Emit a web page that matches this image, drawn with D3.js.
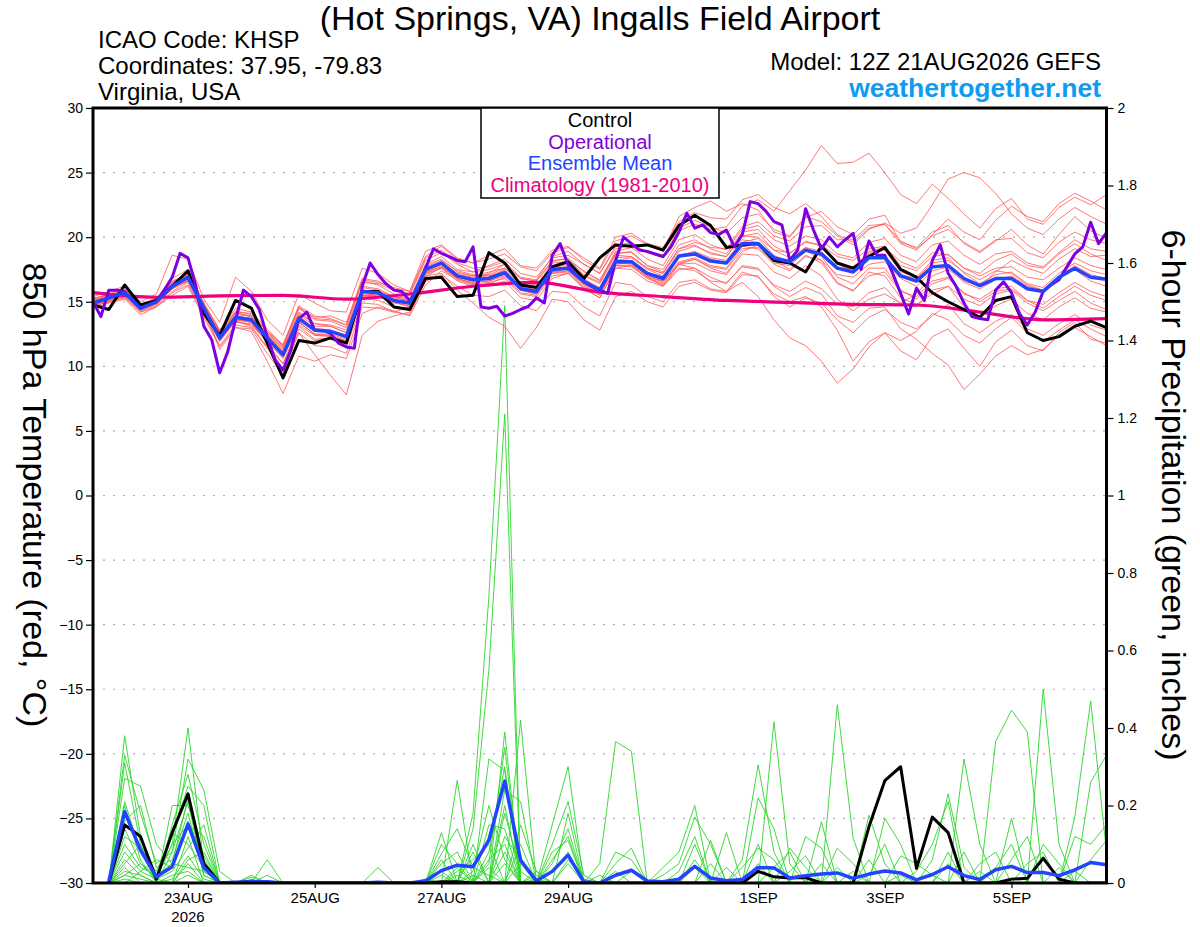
<!DOCTYPE html>
<html><head><meta charset="utf-8">
<script src="https://cdn.jsdelivr.net/npm/d3@7"></script>
<style>
body{margin:0;background:#fff;}
svg{display:block;font-family:"Liberation Sans",Arial,Helvetica,sans-serif;}
</style>
</head><body>
<svg id="c" width="1200" height="927"></svg>
<script>
// ---------------- DATA ----------------
// 6-hourly steps from 12Z 21AUG2026 (index 0) to 12Z 06SEP2026 (index 64)
const controlTemp = [14.75,14.4,16.3,14.75,15.1,16.2,17.4,14.1,12.4,15.1,
  14.5,11.8,9.1,12.0,11.8,12.2,11.8,15.8,15.8,14.6,
  14.4,16.8,16.9,15.4,15.5,18.8,18.0,16.3,16.1,17.7,
  18.1,16.8,18.4,19.4,19.3,19.4,19.0,20.9,21.7,20.9,
  19.2,19.4,19.5,18.2,18.0,17.3,19.3,18.0,17.6,18.5,
  19.2,17.5,16.9,15.7,15.0,14.4,13.8,15.1,15.4,12.6,
  12.0,12.3,13.1,13.5,13.0];
const meanTemp = [14.9,15.3,15.7,14.5,15.0,16.2,16.9,14.5,12.2,13.8,
  13.6,12.2,10.9,13.7,12.8,12.7,12.3,15.8,15.7,15.1,
  14.9,17.5,18.0,17.0,16.7,16.8,17.25,16.0,15.8,17.5,
  17.6,16.55,15.9,18.1,18.1,17.2,16.8,18.55,18.7,18.15,
  18.0,19.5,19.5,18.4,18.1,19.0,18.7,17.6,17.3,18.4,
  18.4,17.0,16.6,17.7,17.8,16.8,16.25,16.8,16.8,16.0,
  15.8,16.9,17.6,16.9,16.75];
// operational run, 3-hourly (index 0..128)
const operTemp = [15.0,13.85,15.9,15.9,15.8,15.1,14.5,14.75,15.0,15.9,
  16.9,18.75,18.4,16.2,13.1,12.05,9.5,11.1,13.6,15.9,
  15.4,14.4,12.3,10.5,9.7,11.3,13.7,14.2,12.8,12.8,
  12.55,11.8,11.5,11.4,16.2,18.0,17.1,16.4,15.9,15.8,
  15.1,15.9,17.6,19.1,18.75,18.5,18.2,18.1,19.25,14.6,
  14.5,14.65,13.9,14.1,14.4,14.65,15.3,14.9,18.6,19.5,
  17.85,17.1,16.55,16.2,15.9,15.65,18.2,20.0,19.5,19.0,
  18.9,18.7,18.5,19.25,20.4,21.85,20.7,20.95,20.35,20.2,
  20.55,19.25,20.2,22.75,22.6,22.0,21.2,20.95,18.2,19.0,
  22.2,20.55,19.1,20.0,19.25,19.8,20.3,17.5,19.7,18.6,
  18.6,17.2,15.65,14.05,16.05,15.1,18.2,19.4,17.2,16.2,
  14.9,13.85,13.7,13.6,15.9,16.55,15.7,14.1,13.2,14.2,
  15.8,16.3,16.7,17.7,18.7,19.25,21.15,19.5,20.35];
// climatology (1981-2010), daily at 12Z (every 4th 6-h step)
const climTemp = [15.7,15.35,15.45,15.5,15.2,15.6,16.2,16.5,15.75,15.4,15.1,14.95,14.8,14.75,14.2,13.6,13.7];

// ensemble members, 850 hPa temperature (65 values each)
const ensTemp = [
 [15.2,15.6,16.0,14.8,15.3,16.8,17.5,14.9,12.8,14.5,14.2,12.9,11.6,14.5,13.6,13.5,13.0,16.5,16.4,15.9,15.5,18.2,18.8,17.9,17.3,17.8,18.3,17.2,16.9,18.4,18.6,17.9,17.2,19.3,19.6,18.8,18.5,20.5,21.0,20.6,20.8,22.4,22.9,22.0,23.6,25.2,27.1,25.7,25.8,26.5,25.0,23.3,22.6,24.1,23.0,21.8,20.7,22.2,23.0,21.4,21.0,22.3,23.1,22.5,23.3],
 [15.0,15.1,15.4,14.2,14.6,15.7,16.3,14.0,11.6,13.2,13.0,11.4,9.8,12.9,12.0,12.1,11.5,14.9,14.8,14.2,14.0,16.6,17.1,16.2,15.5,15.4,15.9,14.7,14.3,15.8,15.7,14.6,13.9,16.5,16.3,15.4,15.0,16.5,16.7,16.0,15.8,17.3,16.9,15.6,15.0,15.4,14.6,12.8,10.4,11.9,12.6,11.2,10.5,12.3,12.9,11.4,10.0,11.9,12.8,11.6,11.2,12.6,13.4,12.1,11.8],
 [14.6,15.0,15.5,14.4,14.8,16.0,16.6,14.2,11.9,13.6,13.4,11.8,10.2,13.2,12.4,12.4,11.9,15.5,15.4,15.0,14.6,17.1,17.6,16.8,16.4,16.9,17.5,16.2,15.9,17.8,18.2,17.4,16.6,18.9,19.2,18.3,17.8,19.8,20.2,19.4,19.0,20.6,20.9,19.8,19.3,20.1,19.8,18.7,18.4,19.6,19.9,18.6,18.1,19.4,19.7,18.6,17.9,18.7,18.9,18.0,17.7,18.8,19.8,19.1,18.9],
 [15.3,15.5,15.9,14.6,15.1,16.5,17.2,14.5,11.3,13.0,12.7,10.4,7.9,10.8,10.4,10.9,10.6,14.1,14.6,14.3,13.9,16.3,17.4,16.7,16.3,16.2,16.6,15.3,15.1,16.8,17.2,16.1,15.3,17.6,17.8,16.9,16.2,17.9,18.3,17.6,17.2,18.9,19.4,18.2,17.5,18.6,18.0,16.4,15.9,17.0,17.3,15.8,15.4,16.6,16.9,15.6,15.2,16.0,16.2,15.1,14.8,15.7,16.5,15.8,15.4],
 [14.7,15.2,15.6,14.3,14.9,16.1,16.9,14.7,12.5,13.5,13.1,11.5,10.2,12.6,10.9,9.3,7.8,12.4,13.5,13.9,14.2,16.9,17.7,16.9,16.8,17.2,17.9,16.8,16.6,18.1,18.4,17.3,16.7,18.7,18.9,17.8,17.5,19.4,19.8,19.1,18.7,20.4,20.6,19.3,18.7,19.7,19.3,17.9,17.4,18.8,19.0,17.3,16.9,18.2,18.4,17.2,16.4,17.1,17.3,16.4,16.1,17.2,18.0,17.4,17.1],
 [15.1,15.4,15.8,14.7,15.2,16.4,17.0,14.8,12.6,14.1,13.9,12.5,11.4,14.2,13.3,13.2,12.8,16.2,16.0,15.4,15.2,17.8,18.3,17.3,17.0,17.3,17.6,16.5,16.3,18.0,18.1,17.0,16.4,18.6,18.5,17.6,17.2,18.9,19.3,18.8,18.5,20.1,20.0,19.0,18.8,19.6,19.4,18.5,18.2,19.1,19.3,17.8,17.4,18.5,18.7,17.6,17.0,17.6,17.7,16.9,16.7,17.6,18.4,17.8,17.5],
 [14.8,15.0,15.3,14.2,14.7,15.8,16.5,14.1,12.0,13.4,13.3,11.9,10.6,13.4,12.5,12.4,12.0,15.3,15.1,14.6,14.4,17.0,17.2,15.9,14.9,13.8,13.1,11.4,13.0,15.2,15.0,13.6,12.8,15.4,15.8,15.0,14.6,16.2,16.5,15.9,15.7,17.1,17.0,15.4,14.6,15.3,14.9,13.6,12.6,13.8,14.4,13.4,12.9,13.9,14.8,13.3,12.6,13.5,14.0,12.9,12.4,13.3,14.0,13.2,12.8],
 [15.4,15.8,16.2,15.0,15.6,18.6,18.3,15.2,13.4,16.9,15.8,13.6,12.4,15.6,14.9,14.3,14.2,17.6,17.2,16.3,15.8,18.9,19.4,18.4,18.0,18.6,19.1,17.8,17.6,19.0,19.3,18.2,17.5,19.7,20.1,19.4,18.9,21.6,22.3,22.8,22.0,22.6,22.1,20.4,20.0,21.5,22.0,20.8,20.2,21.4,21.7,19.6,19.2,20.4,20.9,19.5,18.8,19.7,20.6,19.4,18.7,20.2,21.6,20.5,19.9],
 [14.5,14.9,15.2,14.0,14.6,15.5,16.2,13.8,11.5,13.0,12.9,11.0,9.4,12.6,11.6,11.5,11.0,14.6,14.5,14.2,14.6,17.4,18.1,17.2,17.0,17.1,17.6,16.4,16.2,17.6,17.9,16.8,16.0,18.2,18.4,17.5,17.0,18.6,18.8,18.3,18.0,19.6,19.9,18.6,18.0,19.0,18.2,16.5,15.8,17.3,17.0,15.3,14.8,15.6,16.2,14.6,13.8,14.7,15.2,14.1,13.6,14.6,15.3,14.5,14.2],
 [15.0,15.3,15.9,14.5,15.0,16.3,16.7,14.4,12.2,14.0,13.9,12.4,11.2,14.0,13.1,13.1,12.6,16.1,15.9,15.3,15.1,17.7,18.2,17.4,17.1,17.0,17.3,15.9,15.6,17.2,17.4,16.4,15.7,18.0,17.9,17.0,16.6,18.1,18.4,17.8,17.6,19.3,19.1,17.9,17.4,18.5,18.2,17.1,16.9,17.9,18.1,16.8,16.2,17.4,17.7,16.5,16.0,16.7,17.0,16.2,15.9,17.0,17.8,17.1,16.8],
 [14.9,15.2,15.5,14.4,14.9,16.0,16.8,14.3,12.3,13.7,13.5,12.1,10.9,13.9,12.9,12.8,12.4,15.9,15.8,15.1,14.8,17.3,17.9,16.8,16.4,16.5,16.8,15.6,15.4,17.0,17.2,16.0,15.3,17.6,17.5,16.6,16.2,17.5,17.6,16.9,16.4,17.8,17.6,16.2,15.4,16.1,15.6,13.9,13.4,14.5,14.6,12.9,12.1,11.0,10.1,8.2,9.4,10.8,11.6,10.9,11.3,12.4,13.0,12.3,11.6],
 [15.2,15.6,15.8,14.8,15.1,16.6,17.1,14.6,12.4,14.2,13.8,12.6,11.5,14.5,13.8,13.9,13.4,16.8,16.6,16.0,15.6,18.4,19.0,18.0,17.6,17.7,18.1,16.9,16.7,18.5,18.9,17.9,17.2,19.1,19.4,18.8,18.4,20.7,21.3,20.8,20.3,21.5,21.8,20.6,20.1,21.6,21.2,20.1,19.4,20.6,21.1,20.3,20.7,22.5,24.5,25.0,24.6,23.4,21.8,20.7,20.2,21.4,22.3,21.6,21.0],
 [14.8,15.1,15.6,14.6,15.0,16.2,17.0,14.6,12.1,13.5,13.2,11.9,10.7,13.1,12.1,12.2,11.8,15.5,15.5,15.0,14.6,17.2,17.6,16.6,16.2,16.4,16.9,15.7,15.5,17.3,17.6,16.5,15.9,18.1,18.0,17.0,16.5,17.9,18.0,17.4,17.1,18.7,18.6,17.3,16.8,17.8,17.0,15.2,14.3,15.2,15.6,14.9,15.6,17.0,17.5,16.6,16.2,17.3,18.2,17.6,17.2,18.3,19.1,18.5,18.6],
 [15.1,15.3,15.7,14.5,15.0,16.1,16.6,14.6,12.7,13.9,13.6,12.3,11.1,13.7,12.7,12.7,12.3,15.7,15.4,15.0,14.8,17.5,17.9,16.9,16.6,16.6,17.1,16.1,15.9,17.4,17.7,16.7,16.0,18.2,18.2,17.3,16.9,18.6,18.9,18.4,18.2,19.8,19.6,18.5,18.2,19.2,18.9,17.6,17.6,18.9,19.2,18.1,17.6,18.8,18.6,17.6,17.2,18.2,18.7,17.8,17.6,18.7,19.5,18.7,18.2],
 [14.9,15.2,15.7,14.6,15.0,16.3,16.9,14.6,12.3,13.9,13.7,12.3,11.0,13.8,12.9,12.8,12.4,15.8,15.7,15.1,14.9,17.5,18.0,17.0,16.7,16.9,17.3,16.1,15.9,17.5,17.6,16.4,15.7,17.9,18.0,17.0,16.6,17.9,17.6,16.5,15.8,16.5,15.4,13.6,12.2,11.6,10.4,8.7,9.8,11.5,12.6,12.0,12.7,14.1,13.6,12.4,11.8,12.9,13.8,12.6,11.9,12.8,13.6,12.9,12.3],
 [14.7,15.0,15.4,14.3,14.8,16.0,16.7,14.5,12.3,13.7,13.4,12.0,10.8,13.4,12.5,12.5,12.1,15.5,15.6,15.1,14.9,17.6,18.1,17.1,16.9,17.0,17.4,16.1,15.8,17.6,17.7,16.7,16.1,18.4,18.5,17.6,17.2,19.1,19.6,19.2,19.1,20.8,21.2,20.1,19.7,20.8,20.9,19.8,19.8,20.9,21.0,19.7,19.1,20.1,20.6,19.6,18.9,19.8,19.9,18.8,18.4,19.6,20.4,19.8,19.5],
 [15.0,15.4,15.9,14.6,15.2,16.4,17.1,14.9,12.8,14.2,14.1,12.7,11.7,14.7,13.9,13.7,13.2,16.6,16.3,15.6,15.2,17.9,18.5,17.5,17.3,17.5,17.9,16.8,16.6,18.2,18.3,17.1,16.5,18.8,18.8,17.8,17.3,19.1,19.4,18.7,18.5,20.1,20.3,19.0,18.4,19.2,18.5,16.9,16.4,17.6,17.6,15.9,15.2,16.4,16.8,15.7,15.0,15.8,16.0,15.1,14.5,15.4,16.2,15.5,15.1],
 [14.8,15.3,15.6,14.5,14.9,16.1,16.6,14.4,12.4,13.8,13.7,12.5,11.3,14.1,13.3,13.1,12.6,15.9,15.8,15.4,15.0,17.3,17.7,16.8,16.5,16.6,17.0,15.9,15.6,17.2,17.3,16.2,15.5,17.8,17.8,16.9,16.4,18.0,18.3,17.7,17.5,19.1,19.2,18.0,17.8,18.9,18.6,17.6,17.6,18.7,18.6,17.1,16.8,18.0,18.2,17.3,16.7,17.4,17.2,16.3,15.9,16.8,17.5,16.6,16.2],
 [15.1,15.5,15.8,14.7,15.2,16.5,17.3,14.8,12.7,14.3,14.0,12.7,11.6,14.6,13.7,13.6,13.2,16.7,16.5,16.1,15.8,18.5,19.3,18.3,18.0,18.3,18.7,17.7,17.4,18.8,19.2,18.4,17.6,20.0,20.3,19.5,19.2,21.2,21.9,21.5,21.4,22.9,23.3,22.3,21.8,22.6,21.6,20.2,19.6,20.7,21.0,19.5,19.0,20.2,21.4,20.4,19.8,21.3,22.4,21.6,21.2,22.6,23.4,22.8,22.1],
 [14.9,15.2,15.6,14.4,15.0,16.2,16.8,14.4,12.0,13.6,13.5,12.1,10.8,13.5,12.4,12.3,11.9,15.4,15.4,14.9,14.7,17.2,17.8,16.9,16.6,16.8,17.2,16.0,15.7,17.3,17.4,16.3,15.6,17.8,17.7,16.8,16.3,17.6,17.4,16.6,16.5,17.7,17.5,16.3,15.8,16.6,16.0,14.8,14.6,15.7,16.1,14.8,14.6,15.9,16.2,15.2,14.7,15.6,15.9,14.9,14.3,15.1,15.8,14.9,14.4]
];

// 6-hour precipitation (inches), steps 1..64
const controlPrecip = [0,.15,.12,.01,.13,.23,.05,0, 0,.005,0,0,0,0,0,0, 0,0,0,0,0,.003,.003,0, 0,0,0,0,0,0,0,0,
  0,0,0,0,0,0,0,0, 0,.03,.016,.013,.014,0,0,0, .145,.264,.30,.038,.17,.13,0,0, 0,.01,.012,.064,.01,0,0,0];
const meanPrecip = [.005,.184,.085,.016,.042,.152,.04,0, .002,.003,.003,0,0,0,0,0, 0,.002,0,0,.005,.032,.046,.042,
  .111,.263,.059,.005,.03,.072,.003,0, .02,.033,.005,.003,.01,.043,.013,.006, .009,.04,.039,.013,.019,.023,.026,.012,
  .023,.031,.026,.008,.022,.042,.019,.009, .034,.043,.027,.027,.019,.034,.053,.047];
const ensPrecip = [
 [0,.38,.12,.02,.10,.40,.05,0, 0,0,0,0,0,0,0,0, 0,0,0,0,0,.10,.05,0, 0,.39,0,.03,0,0,0,0, 0,0,0,.04,.08,.2,0,0, 0,0,0,0,0,0,0,0, 0,0,0,.03,.1,.21,0,0, 0,0,0,0,0,0,0,0],
 [0,.33,.18,.05,.08,.32,.24,.03, 0,0,0,0,0,0,0,0, 0,0,0,0,0,0,0,.18, .74,1.49,0,0,0,0,0,0, 0,0,0,0,0,0,.11,0, 0,0,0,.03,.07,0,0,.03, 0,0,0,0,0,0,0,0, 0,0,.05,.08,0,0,0,0],
 [0,.31,.10,0,.15,.28,.10,0, 0,0,.06,0,0,0,0,0, 0,0,0,0,0,.075,.14,.04, .02,0,.42,0,0,0,0,.05, .365,.34,0,0,0,0,0,0, .04,.09,.06,0,0,0,0,0, 0,0,0,0,0,0,0,.03, 0,.167,0,0,0,0,0,0],
 [0,.27,.25,.10,.05,.22,.03,0, 0,0,0,0,0,0,0,0, 0,0,0,0,.01,0,.265,0, .05,.35,0,0,.15,.30,0,0, 0,0,0,0,0,.04,0,0, 0,0,0,0,0,0,.46,.116, 0,0,0,0,0,0,0,0, 0,0,0,0,.04,0,0,0],
 [0,.21,.08,.03,.12,.25,.20,0, 0,.02,0,0,0,0,0,0, 0,0,0,0,0,0,0,.14, .55,1.21,0,0,0,0,0,0, 0,0,0,0,0,0,0,0, 0,.22,.14,0,0,0,0,0, .02,.1,0,0,0,0,0,0, 0,0,0,0,0,.17,.47,.08],
 [0,.20,.06,0,.20,.20,.07,0, 0,0,0,0,0,0,0,0, 0,.04,0,0,0,.13,0,0, .32,.29,0,0,.1,.21,.02,0, 0,0,0,0,0,0,0,0, 0,0,0,.09,.04,0,0,0, 0,0,0,0,0,0,0,0, 0,.06,.12,0,0,0,0,0],
 [0,.16,.20,.04,.06,.18,.02,0, 0,0,0,0,0,0,0,0, 0,0,0,0,0,.05,.08,0, 0,.24,.21,0,0,.18,0,0, 0,0,0,.02,.05,.17,.1,0, 0,0,0,0,0,0,.04,0, 0,0,0,0,0,0,.32,.1, 0,0,0,0,0,0,0,0],
 [0,.14,.05,.01,.10,.15,.12,0, 0,0,.02,0,0,0,0,0, 0,0,0,0,0,0,.03,.06, .1,0,.1,0,0,0,0,0, .05,.09,0,0,0,0,0,0, 0,0,0,0,0,.158,0,0, 0,0,0,0,0,.08,0,0, 0,0,0,0,0,0,0,0],
 [0,.12,.09,0,0,.12,0,0, 0,0,0,0,0,0,0,0, 0,0,0,0,.01,0,0,.02, 0,.2,0,.02,0,0,0,.02, 0,0,0,0,0,0,0,0, .06,.305,.08,0,0,0,0,0, 0,0,0,0,0,0,0,0, 0,0,0,0,0,0,.26,.33],
 [0,.10,.04,.02,.13,.10,.04,0, 0,.015,0,0,0,0,0,0, 0,0,0,0,0,.03,0,0, .15,.14,0,0,.05,.14,0,0, 0,0,0,0,0,0,0,.13, 0,0,.04,.08,0,0,0,0, 0,0,0,0,0,0,0,.05, .08,0,0,0,0,.03,0,0],
 [0,.08,.03,.06,.04,.16,.06,0, 0,0,0,0,0,0,0,0, 0,0,0,0,0,0,.02,0, .06,.1,0,0,.08,.11,0,0, 0,0,0,0,.03,.12,0,0, 0,0,0,0,0,0,0,0, 0,0,.07,.05,.02,0,0,0, 0,0,0,0,0,0,0,0],
 [0,.06,.02,0,0,.05,0,0, 0,0,0,0,0,0,0,0, 0,0,0,0,0,.02,0,.08, 0,0,.15,.03,0,0,0,0, .08,.06,0,0,0,0,0,0, 0,0,0,0,.12,.09,0,0, 0,0,0,0,0,0,0,0, .365,.446,.39,0,0,0,0,0],
 [0,.05,.10,.01,.03,.09,.15,0, 0,0,0,0,0,0,0,0, 0,0,0,0,0,0,0,.03, .2,.06,0,0,.03,.08,0,0, 0,0,0,0,0,.1,0,0, 0,0,0,0,0,0,0,0, .175,.05,0,0,0,0,0,0, 0,0,0,.5,.1,0,0,0],
 [0,.04,0,0,.08,.21,.02,0, 0,0,0,0,0,0,0,0, 0,0,0,0,0,0,0,0, .08,.3,0,.01,0,0,0,0, 0,.03,0,0,0,0,0,0, 0,.1,0,0,0,0,0,0, 0,0,0,0,.06,.23,.04,0, 0,0,0,0,0,0,0,0],
 [0,.03,.02,0,.01,.07,.01,0, 0,0,0,0,0,0,0,0, 0,0,0,0,0,.06,0,0, 0,.05,0,0,0,.06,.01,0, 0,0,0,0,0,0,0,0, 0,0,0,0,0,0,.09,.05, 0,0,0,0,0,0,0,0, 0,0,0,0,0,0,.06,.11],
 [0,.02,.05,.02,.05,.04,.03,0, 0,0,0,0,0,0,0,0, 0,0,0,0,0,0,.04,0, 0,.12,.06,0,0,0,0,0, .03,0,0,0,0,0,0,.04, 0,0,0,0,0,0,0,0, 0,.167,.1,0,0,0,0,0, 0,0,0,0,0,0,0,0],
 [0,.02,.01,0,0,.02,0,0, 0,0,0,0,0,0,0,0, 0,0,0,0,0,0,0,.1, 0,.18,.03,0,0,0,0,0, 0,0,0,0,0,0,.05,0, 0,0,0,0,0,0,0,0, 0,0,.02,0,0,0,.08,0, 0,0,0,0,0,.12,.1,.15],
 [0,.01,0,0,.02,.03,0,0, 0,0,0,0,0,0,0,0, 0,0,0,0,0,0,0,0, .04,0,0,0,.06,.12,0,0, 0,0,0,0,0,0,0,0, 0,0,.416,.05,0,0,0,0, 0,0,0,0,0,0,0,0, 0,0,0,.1,.05,0,0,0],
 [0,0,.03,.01,0,.06,.08,0, 0,0,0,0,0,0,0,0, 0,0,0,0,0,0,0,0, 0,.08,0,0,0,.05,0,0, 0,0,0,0,0,.06,0,0, 0,0,0,0,0,0,0,0, .06,0,0,0,0,0,0,0, .04,.1,0,0,0,0,0,0],
 [0,0,0,0,0,0,0,0, 0,0,0,0,0,0,0,0, 0,0,0,0,0,0,0,0, 0,0,.05,0,0,0,0,0, 0,0,0,0,0,0,0,0, 0,.05,0,0,0,.05,0,0, 0,0,0,0,0,.05,0,0, 0,0,0,0,0,0,0,0]
];

const tempTicks = [-30,-25,-20,-15,-10,-5,0,5,10,15,20,25,30];
const precipTicks = [0,0.2,0.4,0.6,0.8,1,1.2,1.4,1.6,1.8,2];
const dateTicks = ["2026-08-23","2026-08-25","2026-08-27","2026-08-29","2026-09-01","2026-09-03","2026-09-05"];
const dateTickLabels = ["23AUG","25AUG","27AUG","29AUG","1SEP","3SEP","5SEP"];
const legendItems = [
  {label:"Control", color:"#000000"},
  {label:"Operational", color:"#7f00df"},
  {label:"Ensemble Mean", color:"#2244ff"},
  {label:"Climatology (1981-2010)", color:"#ee0080"}
];

// ---------------- CHART ----------------
const svg = d3.select("#c");
const L = 93, R = 1106.5, T = 108, B = 883;
const T0 = Date.UTC(2026, 7, 21, 12), HOUR = 3600000;
const t6 = i => new Date(T0 + i * 6 * HOUR);
const t3 = j => new Date(T0 + j * 3 * HOUR);

const x = d3.scaleUtc().domain([t6(0), t6(64)]).range([L, R]);
const yT = d3.scaleLinear().domain([-30, 30]).range([B, T]);
const yP = d3.scaleLinear().domain([0, 2]).range([B, T]);

svg.append("rect").attr("width",1200).attr("height",927).attr("fill","#fff");

svg.append("defs").append("clipPath").attr("id","clip")
  .append("rect").attr("x",L).attr("y",T).attr("width",R-L).attr("height",B-T);

// grid
svg.append("g").selectAll("line").data(tempTicks.filter(d => d > -30 && d < 30)).join("line")
  .attr("x1", L).attr("x2", R).attr("y1", d => yT(d)).attr("y2", d => yT(d))
  .attr("stroke", "#aaaaaa").attr("stroke-width", 1.2).attr("stroke-dasharray", "2,8");

const plot = svg.append("g").attr("clip-path","url(#clip)");

const lineT6 = d3.line().x((d,i) => x(t6(i))).y(d => yT(d));
const lineT3 = d3.line().x((d,i) => x(t3(i))).y(d => yT(d));
const lineP = d3.line().x((d,i) => x(t6(i+1))).y(d => yP(d));
const lineClim = d3.line().x((d,i) => x(t6(i*4))).y(d => yT(d)).curve(d3.curveMonotoneX);

// precip members
plot.append("g").selectAll("path").data(ensPrecip).join("path")
  .attr("d", lineP).attr("fill","none").attr("stroke","#2bd62b").attr("stroke-width",0.9);
// temperature members
plot.append("g").selectAll("path").data(ensTemp).join("path")
  .attr("d", lineT6).attr("fill","none").attr("stroke","#ff5555").attr("stroke-width",0.8);

// climatology
plot.append("path").datum(climTemp).attr("d", lineClim).attr("fill","none")
  .attr("stroke","#ee0080").attr("stroke-width",3.2);

// precip control & mean
plot.append("path").datum(controlPrecip).attr("d", lineP).attr("fill","none")
  .attr("stroke","#000").attr("stroke-width",3).attr("stroke-linejoin","round");
plot.append("path").datum(meanPrecip).attr("d", lineP).attr("fill","none")
  .attr("stroke","#2244ff").attr("stroke-width",3.5).attr("stroke-linejoin","round");

// temperature control, operational, mean
plot.append("path").datum(controlTemp).attr("d", lineT6).attr("fill","none")
  .attr("stroke","#000").attr("stroke-width",3).attr("stroke-linejoin","round");
plot.append("path").datum(operTemp).attr("d", lineT3).attr("fill","none")
  .attr("stroke","#7f00df").attr("stroke-width",3).attr("stroke-linejoin","round");
plot.append("path").datum(meanTemp).attr("d", lineT6).attr("fill","none")
  .attr("stroke","#2244ff").attr("stroke-width",3.5).attr("stroke-linejoin","round");

// frame
svg.append("rect").attr("x",L).attr("y",T).attr("width",R-L).attr("height",B-T)
  .attr("fill","none").attr("stroke","#000").attr("stroke-width",3);

// axes
const axL = svg.append("g").attr("transform",`translate(${L},0)`)
  .call(d3.axisLeft(yT).tickValues(tempTicks).tickSize(7).tickPadding(3).tickFormat(d3.format("d")));
const axR = svg.append("g").attr("transform",`translate(${R},0)`)
  .call(d3.axisRight(yP).tickValues(precipTicks).tickSize(7).tickPadding(4).tickFormat(d => String(+d.toFixed(1))));
const axB = svg.append("g").attr("transform",`translate(0,${B})`)
  .call(d3.axisBottom(x).tickValues(dateTicks.map(s => new Date(s + "T00:00:00Z"))).tickSize(5).tickPadding(4)
    .tickFormat((d,i) => dateTickLabels[i]));
[axL, axR, axB].forEach(g => {
  g.select(".domain").remove();
  g.selectAll("text").attr("font-family",'"Liberation Sans",Arial,sans-serif').attr("fill","#000");
  g.selectAll("line").attr("stroke","#000").attr("stroke-width",1.2);
});
axL.selectAll("text").attr("font-size",14);
axR.selectAll("text").attr("font-size",14);
axB.selectAll("text").attr("font-size",15);
svg.append("text").attr("x", x(new Date(dateTicks[0] + "T00:00:00Z"))).attr("y", 922)
  .attr("text-anchor","middle").attr("font-size",15).text("2026");

// axis titles
svg.append("text").attr("transform","translate(23,495) rotate(90)")
  .attr("text-anchor","middle").attr("font-size",34).text("850 hPa Temperature (red, °C)");
svg.append("text").attr("transform","translate(1162,495) rotate(90)")
  .attr("text-anchor","middle").attr("font-size",34).text("6-hour Precipitation (green, inches)");

// titles
svg.append("text").attr("x",600).attr("y",30).attr("text-anchor","middle").attr("font-size",34)
  .text("(Hot Springs, VA) Ingalls Field Airport");
const info = ["ICAO Code: KHSP","Coordinates: 37.95, -79.83","Virginia, USA"];
svg.append("g").selectAll("text").data(info).join("text")
  .attr("x",98).attr("y",(d,i) => 48 + i*26).attr("font-size",24).text(d => d);
svg.append("text").attr("x",1101).attr("y",70).attr("text-anchor","end").attr("font-size",24)
  .text("Model: 12Z 21AUG2026 GEFS");
svg.append("text").attr("x",1101).attr("y",97).attr("text-anchor","end").attr("font-size",26.5)
  .attr("font-weight","bold").attr("fill","#0f9bf2").text("weathertogether.net");

// legend
const lg = svg.append("g");
lg.append("rect").attr("x",481).attr("y",108).attr("width",238).attr("height",90)
  .attr("fill","#fff").attr("stroke","#000").attr("stroke-width",1.5);
lg.selectAll("text").data(legendItems).join("text")
  .attr("x",600).attr("y",(d,i) => 127 + i*21.7).attr("text-anchor","middle")
  .attr("font-size",20).attr("fill",d => d.color).text(d => d.label);
</script>
</body></html>
